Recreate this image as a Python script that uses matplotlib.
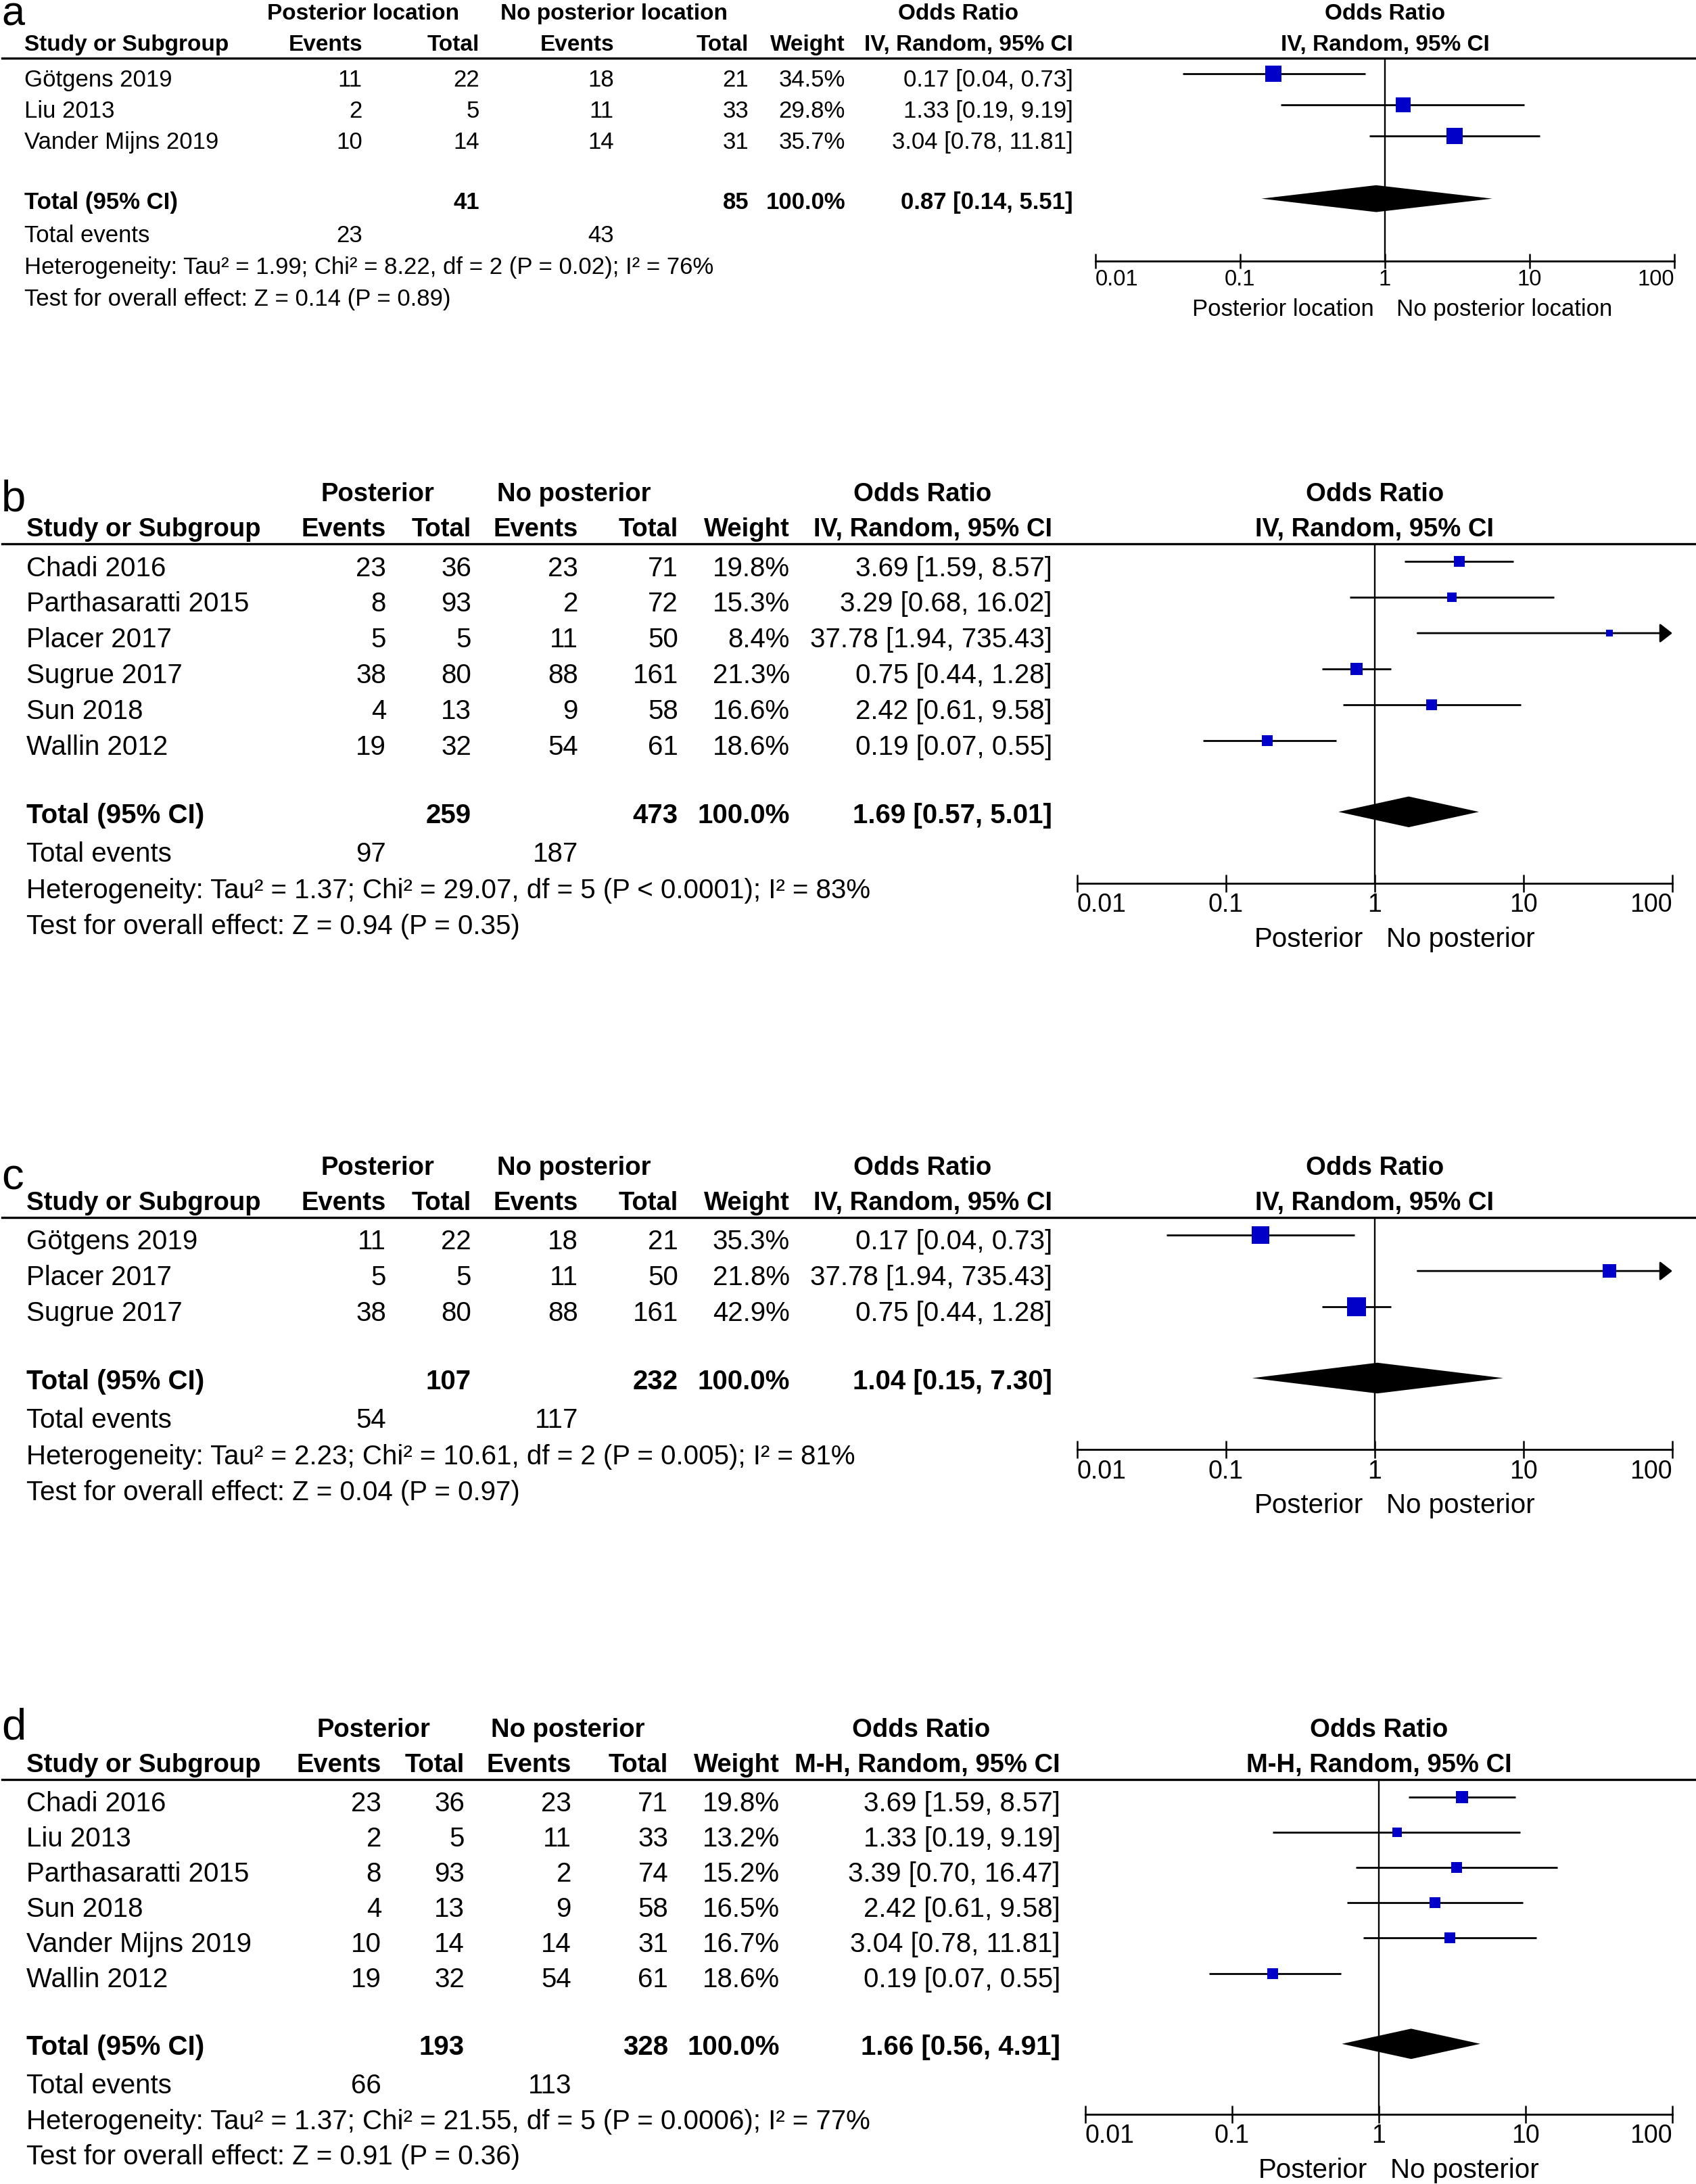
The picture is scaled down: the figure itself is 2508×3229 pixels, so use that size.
import matplotlib
matplotlib.use("Agg")
import matplotlib.pyplot as plt
from matplotlib.lines import Line2D
from matplotlib.ticker import NullLocator
from matplotlib import transforms
import numpy as np

plt.rcParams["font.family"] = ["Liberation Sans", "DejaVu Sans"]

W, H = 2508, 3230
DPI = 100

# ===========================
# Data
# ===========================
a_studies = ["Götgens 2019", "Liu 2013", "Vander Mijns 2019"]
a_ev1 = [11, 2, 10]
a_tot1 = [22, 5, 14]
a_ev2 = [18, 11, 14]
a_tot2 = [21, 33, 31]
a_weight = [34.5, 29.8, 35.7]
a_or = [0.17, 1.33, 3.04]
a_lo = [0.04, 0.19, 0.78]
a_hi = [0.73, 9.19, 11.81]
a_total = [41, 85]
a_events = [23, 43]
a_pooled = [0.87, 0.14, 5.51]
a_het = "Heterogeneity: Tau² = 1.99; Chi² = 8.22, df = 2 (P = 0.02); I² = 76%"
a_test = "Test for overall effect: Z = 0.14 (P = 0.89)"

b_studies = ["Chadi 2016", "Parthasaratti 2015", "Placer 2017", "Sugrue 2017", "Sun 2018", "Wallin 2012"]
b_ev1 = [23, 8, 5, 38, 4, 19]
b_tot1 = [36, 93, 5, 80, 13, 32]
b_ev2 = [23, 2, 11, 88, 9, 54]
b_tot2 = [71, 72, 50, 161, 58, 61]
b_weight = [19.8, 15.3, 8.4, 21.3, 16.6, 18.6]
b_or = [3.69, 3.29, 37.78, 0.75, 2.42, 0.19]
b_lo = [1.59, 0.68, 1.94, 0.44, 0.61, 0.07]
b_hi = [8.57, 16.02, 735.43, 1.28, 9.58, 0.55]
b_total = [259, 473]
b_events = [97, 187]
b_pooled = [1.69, 0.57, 5.01]
b_het = "Heterogeneity: Tau² = 1.37; Chi² = 29.07, df = 5 (P < 0.0001); I² = 83%"
b_test = "Test for overall effect: Z = 0.94 (P = 0.35)"

c_studies = ["Götgens 2019", "Placer 2017", "Sugrue 2017"]
c_ev1 = [11, 5, 38]
c_tot1 = [22, 5, 80]
c_ev2 = [18, 11, 88]
c_tot2 = [21, 50, 161]
c_weight = [35.3, 21.8, 42.9]
c_or = [0.17, 37.78, 0.75]
c_lo = [0.04, 1.94, 0.44]
c_hi = [0.73, 735.43, 1.28]
c_total = [107, 232]
c_events = [54, 117]
c_pooled = [1.04, 0.15, 7.30]
c_het = "Heterogeneity: Tau² = 2.23; Chi² = 10.61, df = 2 (P = 0.005); I² = 81%"
c_test = "Test for overall effect: Z = 0.04 (P = 0.97)"

d_studies = ["Chadi 2016", "Liu 2013", "Parthasaratti 2015", "Sun 2018", "Vander Mijns 2019", "Wallin 2012"]
d_ev1 = [23, 2, 8, 4, 10, 19]
d_tot1 = [36, 5, 93, 13, 14, 32]
d_ev2 = [23, 11, 2, 9, 14, 54]
d_tot2 = [71, 33, 74, 58, 31, 61]
d_weight = [19.8, 13.2, 15.2, 16.5, 16.7, 18.6]
d_or = [3.69, 1.33, 3.39, 2.42, 3.04, 0.19]
d_lo = [1.59, 0.19, 0.70, 0.61, 0.78, 0.07]
d_hi = [8.57, 9.19, 16.47, 9.58, 11.81, 0.55]
d_total = [193, 328]
d_events = [66, 113]
d_pooled = [1.66, 0.56, 4.91]
d_het = "Heterogeneity: Tau² = 1.37; Chi² = 21.55, df = 5 (P = 0.0006); I² = 77%"
d_test = "Test for overall effect: Z = 0.91 (P = 0.36)"

tick_vals = [0.01, 0.1, 1, 10, 100]
tick_labels = ["0.01", "0.1", "1", "10", "100"]

panels = [
    dict(letter="a", studies=a_studies, ev1=a_ev1, tot1=a_tot1, ev2=a_ev2, tot2=a_tot2,
         weight=a_weight, orr=a_or, lo=a_lo, hi=a_hi, total=a_total, events=a_events,
         pooled=a_pooled, het=a_het, test=a_test,
         groups=["Posterior location", "No posterior location"], method="IV, Random, 95% CI"),
    dict(letter="b", studies=b_studies, ev1=b_ev1, tot1=b_tot1, ev2=b_ev2, tot2=b_tot2,
         weight=b_weight, orr=b_or, lo=b_lo, hi=b_hi, total=b_total, events=b_events,
         pooled=b_pooled, het=b_het, test=b_test,
         groups=["Posterior", "No posterior"], method="IV, Random, 95% CI"),
    dict(letter="c", studies=c_studies, ev1=c_ev1, tot1=c_tot1, ev2=c_ev2, tot2=c_tot2,
         weight=c_weight, orr=c_or, lo=c_lo, hi=c_hi, total=c_total, events=c_events,
         pooled=c_pooled, het=c_het, test=c_test,
         groups=["Posterior", "No posterior"], method="IV, Random, 95% CI"),
    dict(letter="d", studies=d_studies, ev1=d_ev1, tot1=d_tot1, ev2=d_ev2, tot2=d_tot2,
         weight=d_weight, orr=d_or, lo=d_lo, hi=d_hi, total=d_total, events=d_events,
         pooled=d_pooled, het=d_het, test=d_test,
         groups=["Posterior", "No posterior"], method="M-H, Random, 95% CI"),
]

# ===========================
# Layout (pixels)
# ===========================
cols_a = dict(name=36, ev1=536, tot1=709, ev2=908, tot2=1107, w=1250, orr=1587, g1=537, g2=908, g3=1417)
cols_b = dict(name=39, ev1=571, tot1=697, ev2=855, tot2=1003, w=1168, orr=1556, g1=558, g2=849, g3=1364)
cols_d = dict(name=39, ev1=564, tot1=687, ev2=845, tot2=988, w=1153, orr=1568, g1=552, g2=840, g3=1362)

layouts = [
    dict(line_y=87, axis_y=387, x0=1620, x1=2476, fs=25, hfs=24, tfs=23.5, lfs=44, lbase=38,
         h1=58, cols=cols_a, k=4.0, tick_len=23, lab_off=80),
    dict(line_y=805, axis_y=1307, x0=1593, x1=2473, fs=29, hfs=27.5, tfs=27, lfs=47, lbase=755,
         h1=64, cols=cols_b, k=3.7, tick_len=27, lab_off=93),
    dict(line_y=1801, axis_y=2144, x0=1593, x1=2473, fs=29, hfs=27.5, tfs=27, lfs=47, lbase=1759,
         h1=64, cols=cols_b, k=4.4, tick_len=27, lab_off=93),
    dict(line_y=2632, axis_y=3127, x0=1605, x1=2473, fs=29, hfs=27.5, tfs=27, lfs=47, lbase=2572,
         h1=64, cols=cols_d, k=3.9, tick_len=27, lab_off=93),
]

BLUE = "#0000C8"

fig = plt.figure(figsize=(W / DPI, H / DPI), dpi=DPI)


def fx(x):
    return x / W


def fy(y):
    return 1 - y / H


def draw_panel(p, lay):
    n = len(p["studies"])
    c = lay["cols"]
    fs, hfs = lay["fs"], lay["hfs"]
    top, bot = lay["line_y"], lay["axis_y"]

    ax = fig.add_axes([fx(lay["x0"]), fy(bot), (lay["x1"] - lay["x0"]) / W, (bot - top) / H])
    ax.set_xscale("log")
    ax.set_xlim(0.01, 100)
    ax.set_ylim(n + 3, -0.5)
    ax.patch.set_visible(False)
    for s in ["top", "left", "right"]:
        ax.spines[s].set_visible(False)
    ax.spines["bottom"].set_linewidth(2.0)
    ax.set_yticks([])
    ax.set_xticks(tick_vals)
    ax.set_xticklabels(tick_labels, fontsize=lay["tfs"])
    ax.xaxis.set_minor_locator(NullLocator())
    ax.tick_params(axis="x", direction="inout", length=lay["tick_len"] * 0.72, width=1.8, pad=0)
    labels = ax.get_xticklabels()
    labels[0].set_ha("left")
    labels[-1].set_ha("right")
    ax.axvline(1, color="black", lw=1.7, zorder=1)

    # study rows
    for i in range(n):
        lo, hi, est = p["lo"][i], p["hi"][i], p["orr"][i]
        if hi > 100:
            ax.annotate("", xy=(100, i), xytext=(lo, i), annotation_clip=False,
                        arrowprops=dict(arrowstyle="-|>,head_length=0.45,head_width=0.35",
                                        mutation_scale=25, lw=2.0, color="black",
                                        shrinkA=0, shrinkB=0))
        else:
            ax.plot([lo, hi], [i, i], color="black", lw=2.0, zorder=2, solid_capstyle="butt")
        side = lay["k"] * np.sqrt(p["weight"][i]) * 0.72
        ax.plot(est, i, marker="s", ms=side, color=BLUE, mec=BLUE, mew=0, zorder=3)

    # pooled diamond
    est, lo, hi = p["pooled"]
    yd = n + 1
    hh = 0.43
    ax.fill([lo, est, hi, est], [yd, yd - hh, yd, yd + hh], color="black", lw=0, zorder=3)

    # group labels under axis
    ax.annotate(p["groups"][0], xy=(1, 0), xycoords=("data", "axes fraction"),
                xytext=(-12, -lay["lab_off"] * 0.72), textcoords="offset points",
                ha="right", va="baseline", fontsize=fs)
    ax.annotate(p["groups"][1], xy=(1, 0), xycoords=("data", "axes fraction"),
                xytext=(12, -lay["lab_off"] * 0.72), textcoords="offset points",
                ha="left", va="baseline", fontsize=fs)

    # headers
    h1 = fy(top - lay["h1"])
    h2 = fy(top - 12)
    fig.text(fx(c["g1"]), h1, p["groups"][0], ha="center", va="baseline", fontsize=hfs, fontweight="bold")
    fig.text(fx(c["g2"]), h1, p["groups"][1], ha="center", va="baseline", fontsize=hfs, fontweight="bold")
    fig.text(fx(c["g3"]), h1, "Odds Ratio", ha="center", va="baseline", fontsize=hfs, fontweight="bold")
    fig.text(fx(c["name"]), h2, "Study or Subgroup", ha="left", va="baseline", fontsize=hfs, fontweight="bold")
    for key, lab in [("ev1", "Events"), ("tot1", "Total"), ("ev2", "Events"), ("tot2", "Total"),
                     ("w", "Weight"), ("orr", p["method"])]:
        fig.text(fx(c[key]), h2, lab, ha="right", va="baseline", fontsize=hfs, fontweight="bold")
    trh = transforms.blended_transform_factory(ax.transData, fig.transFigure)
    fig.text(1, h1, "Odds Ratio", transform=trh, ha="center", va="baseline", fontsize=hfs, fontweight="bold")
    fig.text(1, h2, p["method"], transform=trh, ha="center", va="baseline", fontsize=hfs, fontweight="bold")

    # header rule
    fig.add_artist(Line2D([fx(3), 1], [fy(top), fy(top)], transform=fig.transFigure,
                          color="black", lw=2.4))

    # table rows
    tr = transforms.blended_transform_factory(fig.transFigure, ax.transData)
    for i in range(n):
        yb = i + 0.38
        fig.text(fx(c["name"]), yb, p["studies"][i], transform=tr, ha="left", va="baseline", fontsize=fs)
        for key, val in [("ev1", p["ev1"][i]), ("tot1", p["tot1"][i]), ("ev2", p["ev2"][i]),
                         ("tot2", p["tot2"][i])]:
            fig.text(fx(c[key]), yb, str(val), transform=tr, ha="right", va="baseline", fontsize=fs)
        fig.text(fx(c["w"]), yb, f"{p['weight'][i]:.1f}%", transform=tr, ha="right", va="baseline", fontsize=fs)
        fig.text(fx(c["orr"]), yb, f"{p['orr'][i]:.2f} [{p['lo'][i]:.2f}, {p['hi'][i]:.2f}]",
                 transform=tr, ha="right", va="baseline", fontsize=fs)

    yb = n + 1.3
    fig.text(fx(c["name"]), yb, "Total (95% CI)", transform=tr, ha="left", va="baseline", fontsize=fs, fontweight="bold")
    fig.text(fx(c["tot1"]), yb, str(p["total"][0]), transform=tr, ha="right", va="baseline", fontsize=fs, fontweight="bold")
    fig.text(fx(c["tot2"]), yb, str(p["total"][1]), transform=tr, ha="right", va="baseline", fontsize=fs, fontweight="bold")
    fig.text(fx(c["w"]), yb, "100.0%", transform=tr, ha="right", va="baseline", fontsize=fs, fontweight="bold")
    fig.text(fx(c["orr"]), yb, f"{est:.2f} [{lo:.2f}, {hi:.2f}]", transform=tr, ha="right",
             va="baseline", fontsize=fs, fontweight="bold")

    yb = n + 2.38
    fig.text(fx(c["name"]), yb, "Total events", transform=tr, ha="left", va="baseline", fontsize=fs)
    fig.text(fx(c["ev1"]), yb, str(p["events"][0]), transform=tr, ha="right", va="baseline", fontsize=fs)
    fig.text(fx(c["ev2"]), yb, str(p["events"][1]), transform=tr, ha="right", va="baseline", fontsize=fs)
    fig.text(fx(c["name"]), n + 3.4, p["het"], transform=tr, ha="left", va="baseline", fontsize=fs)
    fig.text(fx(c["name"]), n + 4.4, p["test"], transform=tr, ha="left", va="baseline", fontsize=fs)

    # panel letter
    fig.text(fx(2), fy(lay["lbase"]), p["letter"], ha="left", va="baseline", fontsize=lay["lfs"])


for p, lay in zip(panels, layouts):
    draw_panel(p, lay)

fig.savefig("out.png", dpi=DPI, facecolor="white")
print("Generated: out.png")
